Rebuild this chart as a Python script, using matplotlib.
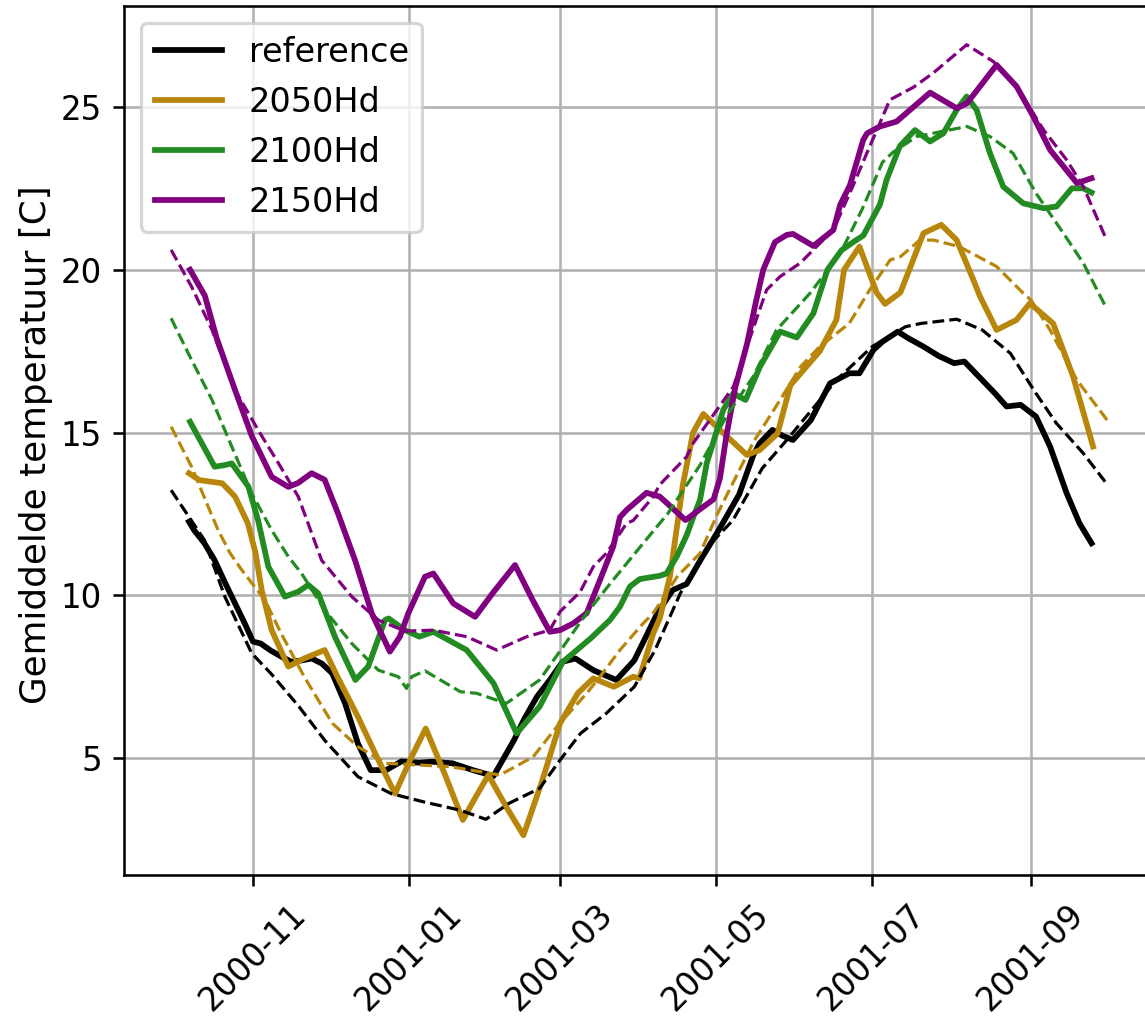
import numpy as np
import pandas as pd
import matplotlib
matplotlib.use("Agg")
import matplotlib.pyplot as plt
import matplotlib.dates as mdates

# Day offsets are counted from this date
DAY0 = pd.Timestamp("2000-11-01")

# Smoothed daily mean temperature, (day offset, degrees C)
reference = [(-25, 12.26), (-23, 12.0), (-19, 11.6), (-15, 11.08), (-11, 10.4), (-7, 9.75),
             (-3, 9.1), (0, 8.58), (3, 8.52), (7, 8.3), (11, 8.12), (15, 7.96), (19, 8.0),
             (23, 8.06), (27, 7.9), (31, 7.6), (36, 6.68), (41, 5.45), (46, 4.63), (52, 4.63),
             (58, 4.9), (65, 4.86), (70, 4.89), (78, 4.84), (86, 4.63), (94, 4.45), (98, 5.0),
             (102, 5.55), (106, 6.2), (111, 6.89), (116, 7.4), (121, 7.96), (126, 8.06),
             (133, 7.7), (142, 7.4), (149, 8.0), (154, 8.8), (158, 9.45), (164, 10.16),
             (169.5, 10.35), (175, 11.1), (182, 12.0), (190, 13.1), (195.5, 14.3), (198, 14.67),
             (203, 15.08), (207, 14.9), (211, 14.77), (218, 15.38), (225.5, 16.51), (233, 16.82),
             (237, 16.82), (242.5, 17.54), (246, 17.79), (252, 18.1), (256, 17.9), (262, 17.64),
             (268, 17.35), (274, 17.13), (278, 17.18), (285, 16.61), (290, 16.2), (294.5, 15.8),
             (300, 15.85), (306, 15.49), (311.5, 14.57), (318, 13.13), (323, 12.21), (327.7, 11.6)]

hd2050 = [(-25, 13.75), (-21, 13.54), (-12, 13.44), (-7, 13.03), (-2, 12.21), (1, 11.3),
          (3.4, 10.16), (7.3, 8.93), (13.8, 7.81), (20, 8.06), (28, 8.32), (33, 7.5),
          (41, 6.27), (49, 4.94), (55.5, 3.91), (62, 5.04), (67.5, 5.91), (75, 4.5),
          (82, 3.1), (87, 3.8), (92, 4.48), (99, 3.5), (105.7, 2.63), (113, 4.3), (120, 6.07),
          (127, 7.0), (133, 7.45), (141, 7.19), (148.6, 7.5), (151, 7.45), (156.4, 8.83),
          (159, 9.3), (163, 10.6), (168, 13.4), (172, 15.0), (176, 15.57), (182.5, 15.08),
          (193, 14.31), (198, 14.46), (205, 14.97), (210, 16.45), (221.5, 17.5), (228, 18.46),
          (231, 20.0), (237, 20.71), (243.7, 19.3), (247, 18.95), (253, 19.3), (257, 20.1),
          (262, 21.12), (269, 21.38), (275, 20.91), (281.5, 19.69), (284, 19.2), (290.6, 18.15),
          (298.4, 18.46), (303.6, 18.97), (312.7, 18.35), (320.5, 16.72), (328.3, 14.57)]

hd2100 = [(-24.6, 15.33), (-20, 14.67), (-15, 13.95), (-11, 14.0), (-8.3, 14.05), (-1.8, 13.34),
          (2, 12.3), (6, 10.88), (12.5, 9.96), (17.7, 10.11), (21.6, 10.32), (25.5, 10.06),
          (32, 8.73), (40, 7.4), (45, 7.81), (51.6, 9.24), (53, 9.29), (59.4, 8.93), (65, 8.73),
          (70.5, 8.88), (83.5, 8.32), (94, 7.3), (103, 5.76), (112, 6.58), (121, 7.95),
          (132, 8.68), (139.5, 9.24), (143.4, 9.65), (147.3, 10.27), (151.2, 10.5), (159, 10.6),
          (161.6, 10.67), (165.6, 11.19), (169.5, 11.85), (172.1, 12.41), (174.7, 12.93),
          (177.3, 14.05), (183.8, 15.7), (187.7, 16.2), (192.5, 16.0), (198.1, 17.02),
          (206, 18.1), (212.5, 17.92), (219, 18.66), (224.5, 20.0), (230, 20.6), (234.6, 20.85),
          (238.5, 21.05), (245, 22.0), (247.6, 22.76), (252.8, 23.8), (258.7, 24.29),
          (264.6, 23.94), (269.8, 24.19), (275, 24.91), (278.9, 25.32), (282.8, 24.91),
          (288, 23.58), (293.2, 22.55), (301, 22.04), (309, 21.89), (314, 21.94), (320, 22.5),
          (324.5, 22.5), (327.7, 22.37)]

hd2150 = [(-24.6, 20.0), (-18.8, 19.2), (-14.2, 17.9), (-7, 16.3), (-0.5, 14.9), (7.3, 13.64),
          (13.8, 13.33), (17.6, 13.45), (22.9, 13.75), (28, 13.55), (33.3, 12.5), (40, 11.05),
          (46.4, 9.45), (53.5, 8.27), (57.4, 8.73), (60.7, 9.45), (67.2, 10.57), (70.5, 10.67),
          (78.3, 9.75), (86.8, 9.34), (94, 10.1), (102.4, 10.93), (109, 9.9), (116, 8.88),
          (120, 8.93), (125.2, 9.14), (130.4, 9.45), (135.6, 10.47), (140.8, 11.5),
          (143.4, 12.4), (146, 12.62), (153.8, 13.15), (159, 13.03), (169, 12.31), (176, 12.72),
          (180, 12.95), (182.5, 13.6), (185, 14.9), (188.5, 16.4), (193, 17.7), (196.5, 19.0),
          (199.4, 20.0), (204, 20.85), (208.6, 21.07), (211, 21.1), (219, 20.73), (226.8, 21.22),
          (229.5, 22.0), (233.3, 22.6), (238.5, 23.99), (240, 24.19), (245, 24.4),
          (251.5, 24.55), (264.6, 25.44), (275, 24.96), (279, 25.11), (290.6, 26.29),
          (298.4, 25.63), (305, 24.7), (311.5, 23.68), (322, 22.66), (327.7, 22.81)]

# Long-term mean curves, (day offset, degrees C)
reference_mean = [(-32, 13.23), (-19, 11.7), (-11, 9.96), (-0.5, 8.22), (7, 7.6), (18, 6.58),
                  (28, 5.55), (41, 4.43), (54, 3.91), (67, 3.65), (81, 3.4), (91, 3.12),
                  (100, 3.61), (112, 4.07), (120, 4.94), (128, 5.76), (138, 6.37), (149, 7.19),
                  (157, 8.3), (167, 10.06), (179, 11.6), (187.5, 12.3), (199, 13.9),
                  (208.6, 14.77), (228, 16.61), (242, 17.64), (255, 18.25), (261, 18.35),
                  (275, 18.48), (285, 18.15), (296, 17.43), (306, 16.2), (314, 15.28),
                  (324.5, 14.36), (333, 13.49)]

hd2050_mean = [(-32, 15.18), (-24, 13.95), (-17.5, 12.72), (-13.6, 12.0), (-9, 11.3),
               (-4.4, 10.78), (4.7, 9.85), (11, 8.83), (20, 7.5), (31, 6.07), (41, 5.35),
               (52, 4.84), (62, 4.8), (77, 4.74), (96.5, 4.48), (109.5, 5.04), (118.7, 5.96),
               (130.4, 6.99), (135.6, 7.5), (143.4, 8.32), (152.5, 9.14), (156.4, 9.45),
               (166, 10.6), (174.7, 11.29), (181.5, 12.5), (195.5, 14.7), (206, 16.0),
               (214, 17.02), (221.5, 17.64), (233, 18.35), (241, 19.38), (249, 20.3),
               (253, 20.4), (260.6, 20.91), (266, 20.91), (276, 20.71), (290.6, 20.1),
               (301, 19.28), (304, 19.07), (311.5, 18.15), (322, 16.61), (334.3, 15.33)]

hd2100_mean = [(-32, 18.51), (-24, 17.23), (-16, 16.0), (-8.3, 14.57), (-0.5, 13.13), (7.3, 12.0),
               (13.8, 11.19), (19, 10.67), (28, 9.55), (38.6, 8.52), (49, 7.7), (56.8, 7.5),
               (60, 7.14), (62, 7.5), (67.2, 7.68), (81, 7.04), (87.4, 6.99), (99, 6.68),
               (112, 7.4), (121, 8.4), (130.4, 9.45), (140, 10.4), (152.5, 11.6), (162, 12.5),
               (174.7, 14.0), (185, 15.5), (195.5, 16.72), (204.6, 18.15), (217.7, 19.28),
               (229.5, 20.5), (238, 21.85), (246, 23.3), (250, 23.6), (259.3, 24.09),
               (279, 24.4), (288, 24.09), (297, 23.58), (306, 22.35), (316.7, 21.12),
               (324.5, 20.2), (333, 18.9)]

hd2150_mean = [(-32, 20.61), (-24, 19.48), (-16, 18.15), (-7, 16.3), (2, 15.08), (10, 14.05),
               (17.7, 13.03), (26.8, 11.08), (38.6, 9.96), (49, 9.24), (59.4, 8.9),
               (70.5, 8.93), (83.5, 8.73), (95.2, 8.32), (107, 8.73), (116, 8.93), (120, 9.5),
               (127.8, 10.1), (133, 10.88), (138.2, 11.3), (146, 12.21), (148.6, 12.3),
               (156.4, 13.03), (159, 13.4), (169.5, 14.26), (172, 14.67), (187.7, 16.4),
               (195.5, 18.2), (200.7, 19.38), (206, 19.79), (213.8, 20.2), (221.5, 20.81),
               (226.8, 21.22), (234.6, 22.6), (240, 23.6), (248.9, 25.22), (258, 25.6),
               (265.8, 26.04), (278.9, 26.91), (289.4, 26.39), (298.4, 25.63), (309, 24.29),
               (318, 23.37), (324.5, 22.55), (333, 21.02)]

labels = ["reference", "2050Hd", "2100Hd", "2150Hd"]
colors = ["black", "darkgoldenrod", "forestgreen", "purple"]
solid_series = [reference, hd2050, hd2100, hd2150]
mean_series = [reference_mean, hd2050_mean, hd2100_mean, hd2150_mean]


def to_xy(pairs):
    days = np.array([p[0] for p in pairs], dtype=float)
    vals = np.array([p[1] for p in pairs], dtype=float)
    dates = DAY0 + pd.to_timedelta(days, unit="D")
    return dates, vals


DPI = 230
W, H = 1145, 1026
fig = plt.figure(figsize=(W / DPI, H / DPI), dpi=DPI)
ax = fig.add_axes([124.4 / W, 151 / H, 1027.4 / W, 869 / H])

for pairs, color, label in zip(solid_series, colors, labels):
    x, y = to_xy(pairs)
    ax.plot(x, y, color=color, lw=1.8, label=label)

for pairs, color in zip(mean_series, colors):
    x, y = to_xy(pairs)
    ax.plot(x, y, color=color, lw=1.0, ls="--")

ax.set_xlim(DAY0 + pd.Timedelta(days=-50.25), DAY0 + pd.Timedelta(days=351.25))
ax.set_ylim(1.41, 28.1)
ax.set_yticks([5, 10, 15, 20, 25])
ax.xaxis.set_major_locator(mdates.MonthLocator(bymonth=[1, 3, 5, 7, 9, 11]))
ax.xaxis.set_major_formatter(mdates.DateFormatter("%Y-%m"))
ax.tick_params(labelsize=10.2)
plt.setp(ax.get_xticklabels(), rotation=45)
ax.set_ylabel("Gemiddelde temperatuur [C]", fontsize=11.2)
ax.yaxis.set_label_coords(-0.0695, 0.495)
ax.grid(True)
ax.legend(loc="upper left", fontsize=10.5)

fig.savefig("out.png", dpi=DPI)
